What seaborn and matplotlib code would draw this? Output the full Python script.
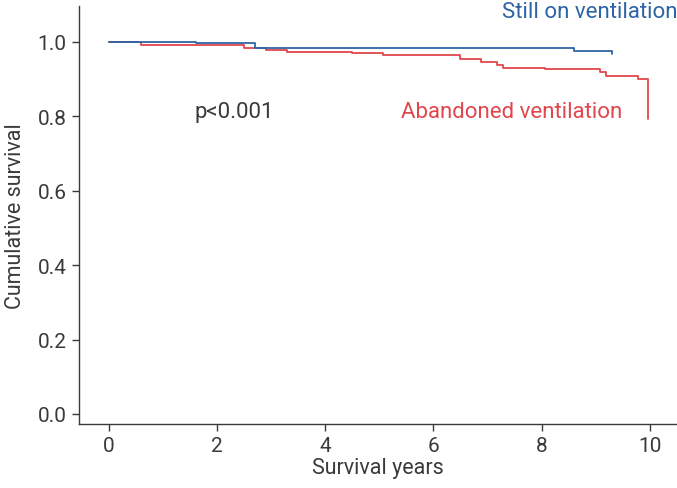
import pandas as pd
import matplotlib.pyplot as plt
import seaborn as sns

# Kaplan-Meier step values
still_t = [0, 1.62, 2.70, 8.60, 9.29]
still_s = [1.0, 0.996, 0.985, 0.975, 0.968]

aband_t = [0, 0.59, 2.50, 2.91, 3.30, 4.49, 5.07, 6.49, 6.87, 7.18, 7.29,
           8.07, 9.07, 9.18, 9.78, 9.97]
aband_s = [1.0, 0.993, 0.985, 0.979, 0.974, 0.969, 0.964, 0.955, 0.945,
           0.939, 0.930, 0.926, 0.920, 0.909, 0.900, 0.793]

x_ticks = [0, 2, 4, 6, 8, 10]
y_ticks = [0.0, 0.2, 0.4, 0.6, 0.8, 1.0]

blue = "#2d64a5"
red = "#e0474c"
grey = "#3a3a3a"

sns.set_style("ticks")
plt.rcParams['font.family'] = ['Roboto', 'DejaVu Sans']

df_still = pd.DataFrame({"t": still_t, "s": still_s})
df_aband = pd.DataFrame({"t": aband_t, "s": aband_s})

fig = plt.figure(figsize=(6.77, 4.89), dpi=100)
ax = fig.add_axes([0.1167, 0.131, 0.8833, 0.855])

sns.lineplot(data=df_aband, x="t", y="s", color=red, lw=1.3,
             drawstyle="steps-post", estimator=None, sort=False, ax=ax)
sns.lineplot(data=df_still, x="t", y="s", color=blue, lw=1.3,
             drawstyle="steps-post", estimator=None, sort=False, ax=ax)

ax.set_xlim(-0.55, 10.5)
ax.set_ylim(-0.027, 1.097)
ax.set_xticks(x_ticks)
ax.set_yticks(y_ticks)
ax.set_yticklabels([f"{v:.1f}" for v in y_ticks])

sns.despine(ax=ax)
for sp in ["left", "bottom"]:
    ax.spines[sp].set_color(grey)
    ax.spines[sp].set_linewidth(1.0)
ax.tick_params(axis="both", colors=grey, labelsize=15, length=5, width=1.0,
               labelcolor=grey, pad=4)

ax.set_xlabel("Survival years", fontsize=15.5, color=grey, labelpad=1)
ax.set_ylabel("Cumulative survival", fontsize=15.5, color=grey, labelpad=8)

ax.text(10.5, 1.081, "Still on ventilation", color=blue, fontsize=16,
        ha="right", va="center")
ax.text(5.4, 0.812, "Abandoned ventilation", color=red, fontsize=16,
        ha="left", va="center")
ax.text(1.59, 0.812, "p<0.001", color=grey, fontsize=16,
        ha="left", va="center")

fig.savefig("out.png", dpi=100)
